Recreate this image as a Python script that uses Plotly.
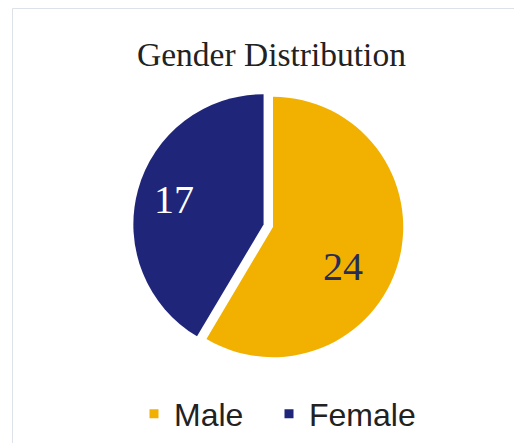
import math
import plotly.graph_objects as go

labels = ["Male", "Female"]
values = [24, 17]
colors = ["#F2B100", "#1F2579"]
text_colors = ["#262C5C", "#FFFFFF"]
pulls = [0, 0.075]

# label placement style (fraction of radius, angular offset in degrees)
label_rfrac = [0.62, 0.79]
label_dang = [14, 0]

W, H = 522, 443
OFF = 8                       # page body margin offsets the figure on screen
CX, CY, R = 273 - OFF, 227 - OFF, 130   # pie centre / radius in figure pixels
DOM = 280

fig = go.Figure()
fig.add_trace(go.Pie(
    labels=labels,
    values=values,
    sort=False,
    direction="clockwise",
    rotation=0,
    pull=pulls,
    marker=dict(colors=colors, line=dict(color="white", width=0)),
    textinfo="none",
    showlegend=False,
    domain=dict(x=[(CX - DOM/2)/W, (CX + DOM/2)/W],
                y=[(H - CY - DOM/2)/H, (H - CY + DOM/2)/H]),
    hoverinfo="label+value",
))

# legend entries (one legend per category so they can be spaced like the original)
legend_names = ["legend", "legend2"]
legend_x = [(134 - OFF)/W, (269 - OFF)/W]
for lab, col, lg in zip(labels, colors, legend_names):
    fig.add_trace(go.Scatter(
        x=[0], y=[0], mode="markers", name=lab, legend=lg,
        marker=dict(symbol="square", size=9, color=col),
        hoverinfo="skip", showlegend=True,
    ))

# value labels placed at each slice's angle, computed from the data
annotations = []
total = sum(values)
start = 0.0
for v, tc, rf, da in zip(values, text_colors, label_rfrac, label_dang):
    span = v / total * 360.0
    mid = math.radians(start + span / 2 + da)
    px = CX + rf * R * math.sin(mid)
    py = CY - rf * R * math.cos(mid)
    annotations.append(dict(
        text=str(v), x=px / W, y=(H - py) / H, xref="paper", yref="paper",
        xanchor="center", yanchor="middle", showarrow=False,
        font=dict(family="Liberation Serif, Times New Roman, serif", size=40, color=tc),
    ))
    start += span

annotations.append(dict(
    text="Gender Distribution",
    x=(271.5 - OFF)/W, y=(H - 47)/H, xref="paper", yref="paper",
    xanchor="center", yanchor="middle", showarrow=False,
    font=dict(family="Liberation Serif, Times New Roman, serif", size=33.5, color="#222222"),
))

legend_style = dict(
    orientation="h", xanchor="left",
    y=(H - 406)/H, yanchor="middle",
    font=dict(family="Liberation Sans, Arial, sans-serif", size=32, color="#222222"),
    bgcolor="rgba(0,0,0,0)",
)

fig.update_layout(
    width=W, height=H,
    margin=dict(l=0, r=0, t=0, b=0),
    paper_bgcolor="white",
    plot_bgcolor="white",
    showlegend=True,
    legend=dict(x=legend_x[0], **legend_style),
    legend2=dict(x=legend_x[1], **legend_style),
    xaxis=dict(visible=False, range=[10, 11], domain=[0, 0.01]),
    yaxis=dict(visible=False, range=[10, 11], domain=[0, 0.01]),
    annotations=annotations,
    shapes=[dict(
        type="rect", xref="paper", yref="paper",
        x0=4.5/W, x1=1.2, y0=-0.1, y1=(H - 0.5)/H,
        line=dict(color="#DDE1E8", width=1),
        fillcolor="rgba(0,0,0,0)",
    )],
)

fig.write_html("out.html")
